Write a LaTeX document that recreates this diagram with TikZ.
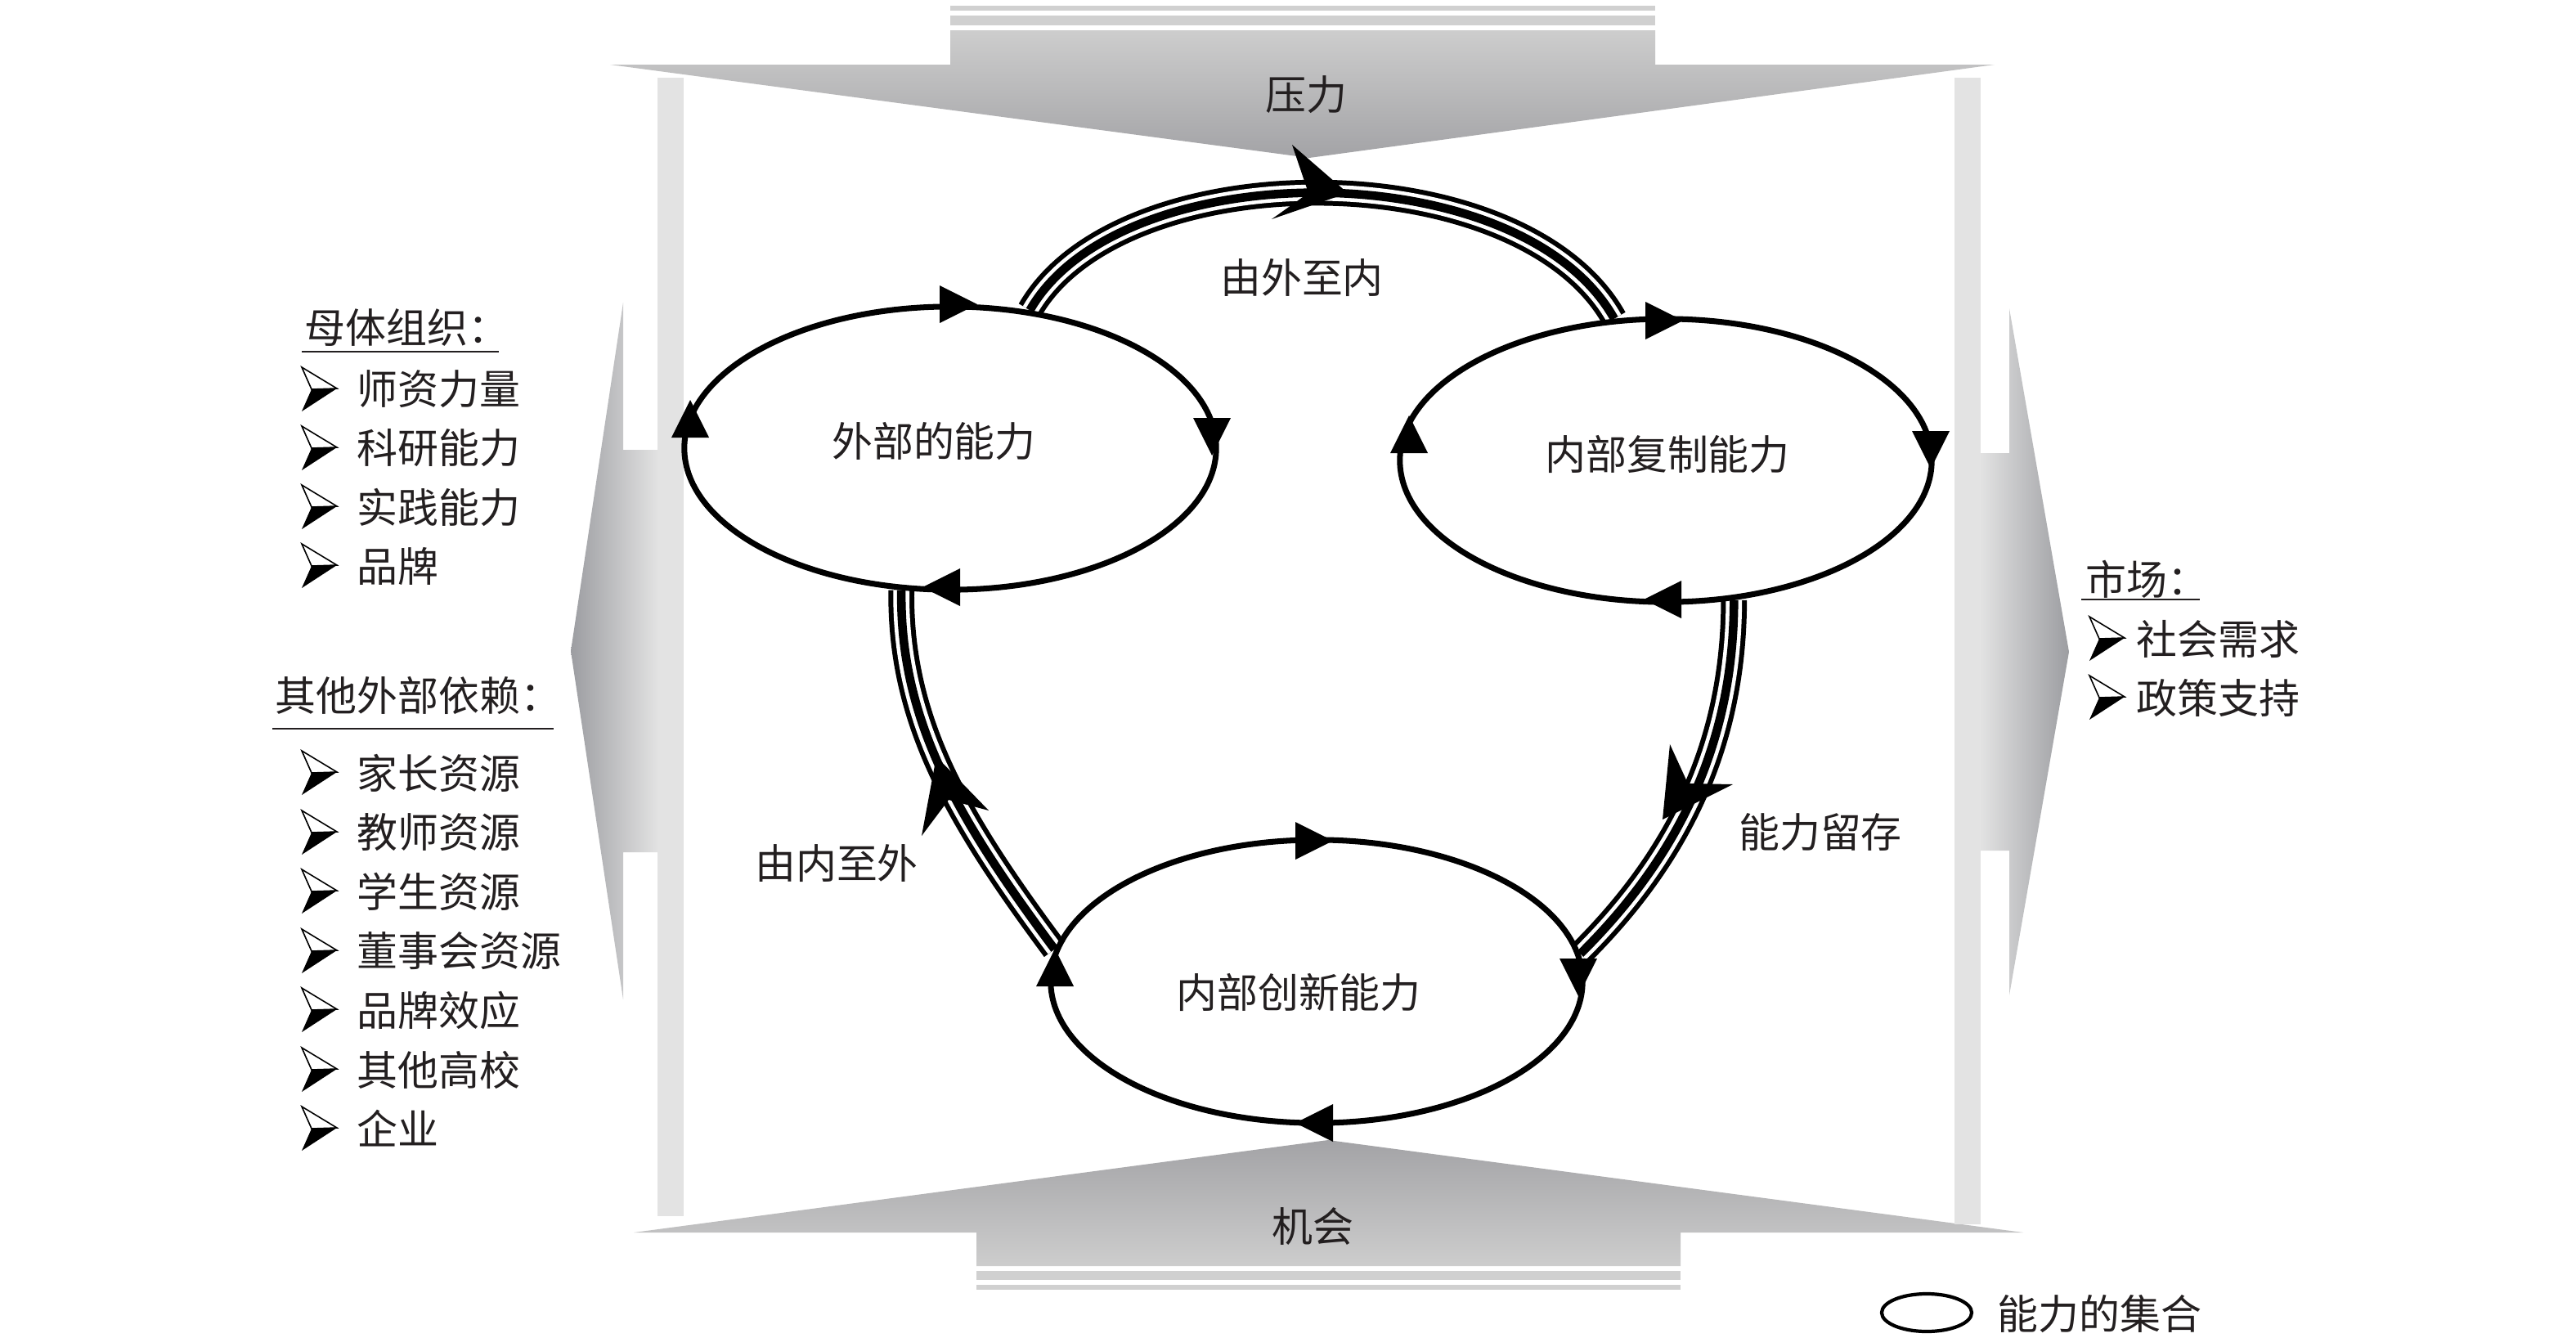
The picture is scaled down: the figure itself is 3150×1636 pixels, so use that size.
\documentclass[tikz,border=0pt]{standalone}
\usepackage{fontspec}
\newfontfamily\cjk{Noto Sans CJK SC}
\usetikzlibrary{shapes.geometric,backgrounds}
\definecolor{vbar}{RGB}{227,227,227}
\definecolor{hbar}{RGB}{208,208,208}
\definecolor{gtop}{RGB}{205,205,205}
\definecolor{gtip}{RGB}{163,163,166}
\definecolor{gd}{RGB}{156,157,161}
\definecolor{gvl}{RGB}{226,226,226}
\definecolor{txt}{RGB}{35,31,32}
\tikzset{
 lbl/.style={font=\cjk\fontsize{14.2pt}{17pt}\selectfont, inner sep=0pt, text=txt},
 ring/.style={ellipse, draw=black, line width=2pt, minimum width=6.5cm, minimum height=3.46cm, inner sep=0pt},
 triple/.style={draw=black, line width=9pt, postaction={draw=white, line width=5.6pt}, postaction={draw=black, line width=3pt}},
 tri/.pic={\fill[black] (0,0) -- (-46,23) -- (-46,-23) -- cycle;},
 bul/.pic={\fill[black] (12,0) -- (43,-1) -- (0,27) -- cycle;
           \draw[black, line width=0.45pt, fill=white, line join=miter] (0,-27) -- (43,-1) -- (12,0) -- cycle;},
}
\begin{document}
\begin{tikzpicture}[x=0.01cm, y=-0.01cm]
\useasboundingbox (0,0) rectangle (3150,1636);
% top arrow (pressure)
\fill[hbar] (1162,7) rectangle (2024,13);
\fill[hbar] (1162,19) rectangle (2024,31);
\shade[top color=gtop, bottom color=gtip] (1162,37) -- (2024,37) -- (2024,79) -- (2439,79) -- (1601,193) -- (746,79) -- (1162,79) -- cycle;
% bottom arrow (opportunity)
\shade[top color=gtip, bottom color=gtop] (1624,1394) -- (2474,1507) -- (2055,1507) -- (2055,1548) -- (1194,1548) -- (1194,1507) -- (775,1507) -- cycle;
\fill[hbar] (1194,1554) rectangle (2055,1565);
\fill[hbar] (1194,1571) rectangle (2055,1577);
% left arrow
\shade[left color=gd, right color=gvl] (698,796) -- (762,370) -- (762,550) -- (804,550) -- (804,1042) -- (762,1042) -- (762,1222) -- cycle;
% right arrow
\shade[left color=gvl, right color=gd] (2530,797) -- (2457,377) -- (2457,554) -- (2422,554) -- (2422,1040) -- (2457,1040) -- (2457,1217) -- cycle;
% vertical bars
\fill[vbar] (804,95) rectangle (836,1487);
\fill[vbar] (2390,95) rectangle (2422,1497);

% capability sets
\node[ring] (A) at (1162,548) {};
\node[ring] (B) at (2037,563) {};
\node[ring] (C) at (1610,1200) {};
\node[lbl] (At) at (1142,540) {外部的能力};
\node[lbl] (Bt) at (2039,556) {内部复制能力};
\node[lbl] (Ct) at (1588,1214) {内部创新能力};

% triple connectors
\begin{pgfonlayer}{background}
\draw[triple] (A.60) .. controls (1370,186) and (1860,186) .. (B.110);
\draw[triple] (B.-64) .. controls (2120,900) and (2060,1040) .. (C.6);
\draw[triple] (C.173) .. controls (1170,1000) and (1100,880) .. (A.251);
\end{pgfonlayer}
% barbed heads on connectors
\fill[black] (1648,236) -- (1580,177) -- (1600,236) -- (1555,268) -- cycle;
\fill[black] (2033,1002) -- (2042,910) -- (2064,958) -- (2119,959) -- cycle;
\fill[black] (1145,925) -- (1209,991) -- (1160,978) -- (1127,1022) -- cycle;

% arrowheads on the rings
\pic at (1195,372) {tri};
\pic[rotate=-90] at (1482,557) {tri};
\pic[rotate=180] at (1128,718) {tri};
\pic[rotate=90] at (844,489) {tri};
\pic at (2058,392) {tri};
\pic[rotate=-90] at (2361,573) {tri};
\pic[rotate=180] at (2010,733) {tri};
\pic[rotate=90] at (1723,508) {tri};
\pic at (1630,1028) {tri};
\pic[rotate=-90] at (1930,1218) {tri};
\pic[rotate=180] at (1584,1373) {tri};
\pic[rotate=90] at (1290,1160) {tri};

% labels
\node[lbl] (yali) at (1597,116) {压力};
\node[lbl] (jihui) at (1605,1500) {机会};
\node[lbl] (wn) at (1592,340) {由外至内};
\node[lbl] (lc) at (2226,1018) {能力留存};
\node[lbl] (nw) at (1023,1056) {由内至外};

% left lists
\node[lbl, anchor=west] (m0) at (372,401) {母体组织：};
\draw[txt, line width=0.75pt] (369,430) -- (610,430);
\foreach \t/\yy [count=\i] in {师资力量/476, 科研能力/548, 实践能力/620, 品牌/692}{
  \pic at (369,\yy) {bul};
  \node[lbl, anchor=west] (ma\i) at (436,\yy) {\t};
}
\node[lbl, anchor=west] (q0) at (336,850) {其他外部依赖：};
\draw[txt, line width=0.75pt] (333,891) -- (677,891);
\foreach \t/\yy [count=\i] in {家长资源/945, 教师资源/1018, 学生资源/1090, 董事会资源/1163, 品牌效应/1235, 其他高校/1308, 企业/1380}{
  \pic at (369,\yy) {bul};
  \node[lbl, anchor=west] (qa\i) at (436,\yy) {\t};
}
% right list
\node[lbl, anchor=west] (s0) at (2550,708) {市场：};
\draw[txt, line width=0.75pt] (2545,733) -- (2690,733);
\foreach \t/\yy [count=\i] in {社会需求/781, 政策支持/853}{
  \pic at (2555,\yy) {bul};
  \node[lbl, anchor=west] (sa\i) at (2612,\yy) {\t};
}
% legend
\node[ellipse, draw=black, line width=1.2pt, minimum width=1.1cm, minimum height=0.46cm, inner sep=0pt] (lg) at (2356,1605) {};
\node[lbl, anchor=west] (lgt) at (2442,1607) {能力的集合};
\end{tikzpicture}
\end{document}
